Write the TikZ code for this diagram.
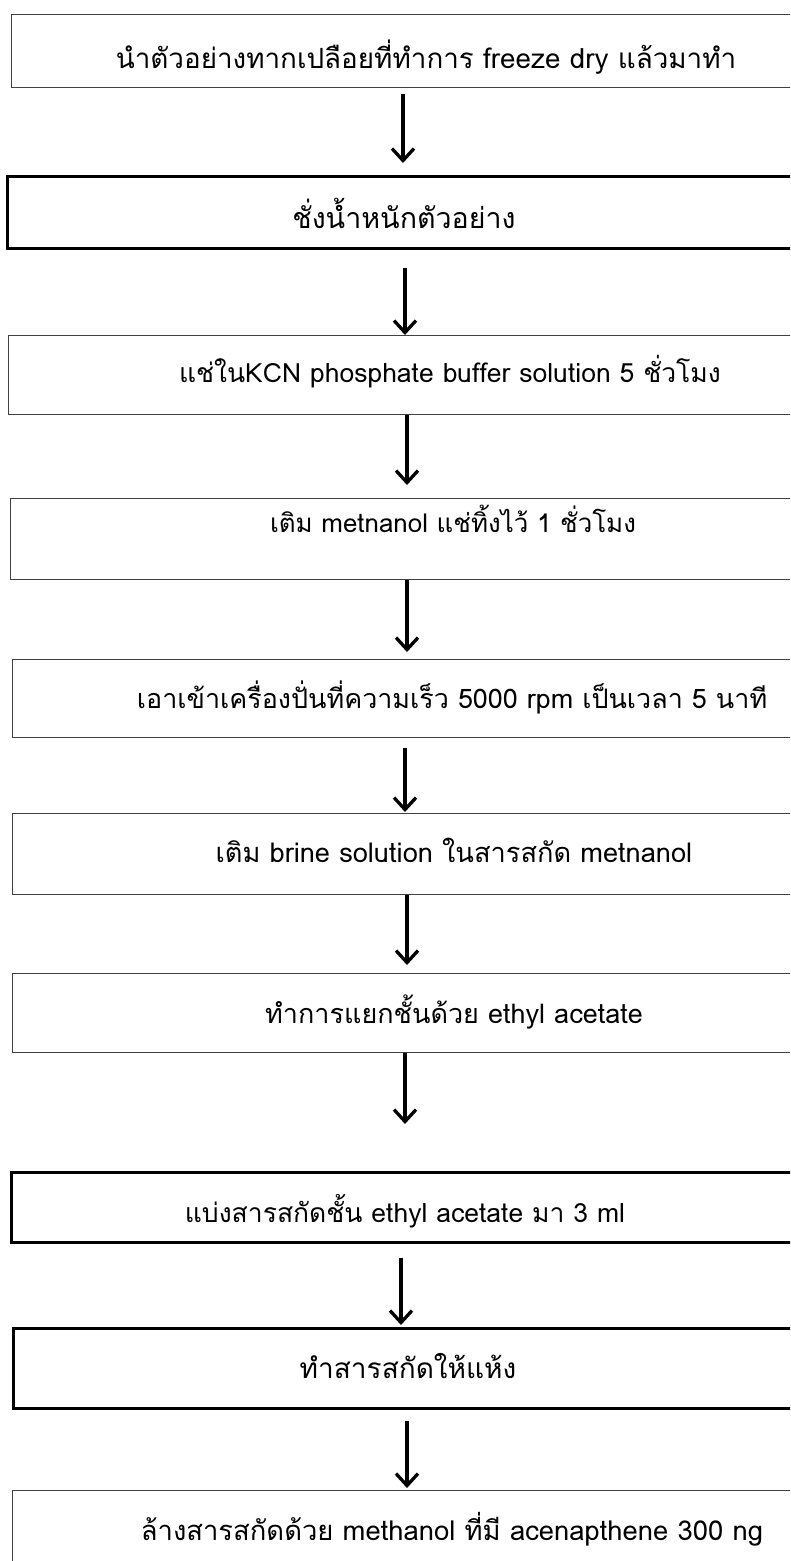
\documentclass[tikz,border=0pt]{standalone}
\usepackage{fontspec}
\usetikzlibrary{arrows.meta,calc}
\newfontfamily\thaifont[Script=Thai]{Loma}
\begin{document}
\begin{tikzpicture}[x=1pt,y=1pt,
  box/.style={draw=black!75, line width=1.3pt, anchor=north west, inner sep=0pt, minimum width=820pt},
  boxb/.style={draw=black, line width=2.6pt, anchor=north west, inner sep=0pt, minimum width=820pt},
  lbl/.style={font=\thaifont\fontsize{#1}{#1}\selectfont, anchor=base, inner sep=0pt},
  arr/.style={line width=3.3pt, -{Straight Barb[length=12pt,width=22pt]}}]
\clip (0,0) rectangle (790,-1561);
% boxes
\node[box,  minimum height=73pt] (b1)  at (11,-14)   {};
\node[boxb, minimum height=72pt] (b2)  at (6,-175)   {};
\node[box,  minimum height=79pt] (b3)  at (8,-335)   {};
\node[box,  minimum height=81pt] (b4)  at (10,-498)  {};
\node[box,  minimum height=78pt] (b5)  at (12,-659)  {};
\node[box,  minimum height=81pt] (b6)  at (12,-813)  {};
\node[box,  minimum height=79pt] (b7)  at (12,-973)  {};
\node[boxb, minimum height=70pt] (b8)  at (10,-1171) {};
\node[boxb, minimum height=80pt] (b9)  at (12,-1327) {};
\node[box,  minimum height=100pt] (b10) at (12,-1490) {};
% labels
\node[lbl=27.8] (t1)  at (426,-68)   {นำตัวอย่างทากเปลือยที่ทำการ freeze dry แล้วมาทำ};
\node[lbl=28.6] (t2)  at (404,-228)  {ชั่งน้ำหนักตัวอย่าง};
\node[lbl=26.5] (t3)  at (450,-382)  {แช่ในKCN phosphate buffer solution 5 ชั่วโมง};
\node[lbl=25.9] (t4)  at (453,-532)  {เติม metnanol แช่ทิ้งไว้ 1 ชั่วโมง};
\node[lbl=26.9] (t5)  at (452,-708)  {เอาเข้าเครื่องปั่นที่ความเร็ว 5000 rpm เป็นเวลา 5 นาที};
\node[lbl=27.2] (t6)  at (454,-862)  {เติม brine solution ในสารสกัด metnanol};
\node[lbl=27]   (t7)  at (454,-1023) {ทำการแยกชั้นด้วย ethyl acetate};
\node[lbl=26.5] (t8)  at (405,-1222) {แบ่งสารสกัดชั้น ethyl acetate มา 3 ml};
\node[lbl=28]   (t9)  at (408,-1378) {ทำสารสกัดให้แห้ง};
\node[lbl=27.4] (t10) at (452,-1540) {ล้างสารสกัดด้วย methanol ที่มี acenapthene 300 ng};
% arrow x positions
\coordinate (x1) at (403,0);
\coordinate (x2) at (405,0);
\coordinate (x3) at (407,0);
\coordinate (x4) at (407,0);
\coordinate (x5) at (405,0);
\coordinate (x6) at (407,0);
\coordinate (x7) at (405,0);
\coordinate (x8) at (401,0);
\coordinate (x9) at (407,0);
% arrows
\draw[arr] ($(b1.south -| x1)+(0,-6)$)  -- ($(b2.north -| x1)+(0,12)$);
\draw[arr] ($(b2.south -| x2)+(0,-18)$) -- ($(b3.north -| x2)+(0,0)$);
\draw[arr] ($(b3.south -| x3)+(0,0)$)   -- ($(b4.north -| x3)+(0,13)$);
\draw[arr] ($(b4.south -| x4)+(0,0)$)   -- ($(b5.north -| x4)+(0,7)$);
\draw[arr] ($(b5.south -| x5)+(0,-10)$) -- ($(b6.north -| x5)+(0,1)$);
\draw[arr] ($(b6.south -| x6)+(0,0)$)   -- ($(b7.north -| x6)+(0,8)$);
\draw[arr] ($(b7.south -| x7)+(0,0)$)   -- ($(b8.north -| x7)+(0,47)$);
\draw[arr] ($(b8.south -| x8)+(0,-14)$) -- ($(b9.north -| x8)+(0,2)$);
\draw[arr] ($(b9.south -| x9)+(0,-11)$) -- ($(b10.north -| x9)+(0,2)$);
\end{tikzpicture}
\end{document}
